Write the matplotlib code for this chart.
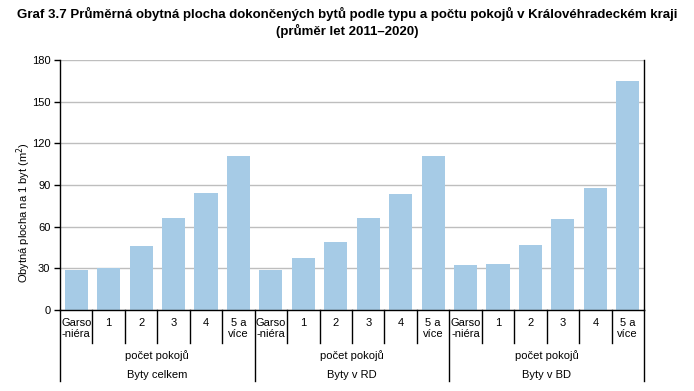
import matplotlib
matplotlib.use("Agg")
from matplotlib import pyplot as plt
import numpy as np

plt.rcParams['font.family'] = ['Liberation Sans', 'DejaVu Sans']

categories = ["Garso\n-niéra", "1", "2", "3", "4", "5 a\nvíce"]
groups = ["Byty celkem", "Byty v RD", "Byty v BD"]
subtitle = "počet pokojů"

celkem = [28.8, 30.2, 46.0, 66.2, 84.2, 110.8]
rd = [28.8, 37.4, 48.9, 66.2, 83.5, 110.8]
bd = [32.4, 33.1, 46.8, 65.5, 87.8, 164.8]

values = celkem + rd + bd
n = len(values)
x = np.arange(n) + 0.5

fig = plt.figure(figsize=(6.94, 3.91), dpi=100)
ax = fig.add_axes([60/694, 1-310/391, 584/694, 250/391])

ax.bar(x, values, width=0.71, color="#A6CBE6", zorder=2)

ax.set_xlim(0, n)
ax.set_ylim(0, 180)
ax.set_yticks(np.arange(0, 181, 30))
ax.yaxis.grid(True, color="#BEBEBE", linewidth=1, zorder=0)
ax.set_axisbelow(True)
ax.tick_params(axis="y", direction="out", length=4, width=1, labelsize=8, pad=3)
ax.set_xticks([])
ax.spines["top"].set_visible(False)
for s in ["left", "right", "bottom"]:
    ax.spines[s].set_color("black")
    ax.spines[s].set_linewidth(1)

ax.set_ylabel("Obytná plocha na 1 byt (m$^2$)", fontsize=8)
ax.yaxis.set_label_coords(-0.047, 0.39)

tr = ax.get_xaxis_transform()
for b in range(n + 1):
    depth = -0.285 if b % 6 == 0 else -0.132
    ax.plot([b, b], [0, depth], color="black", linewidth=1, transform=tr, clip_on=False)

for i, xi in enumerate(x):
    ax.text(xi, -0.034, categories[i % 6], transform=tr, ha="center", va="top",
            fontsize=8, linespacing=1.1)

for g, name in enumerate(groups):
    cx = g * 6 + 3
    ax.text(cx, -0.182, subtitle, transform=tr, ha="center", va="center", fontsize=8)
    ax.text(cx, -0.258, name, transform=tr, ha="center", va="center", fontsize=8)

fig.text(0.5, 1-14/391, "Graf 3.7 Průměrná obytná plocha dokončených bytů podle typu a počtu pokojů v Královéhradeckém kraji",
         ha="center", va="center", fontsize=9.5, fontweight="bold")
fig.text(0.5, 1-31/391, "(průměr let 2011–2020)", ha="center", va="center",
         fontsize=9.5, fontweight="bold")

fig.savefig("out.png", dpi=100)
